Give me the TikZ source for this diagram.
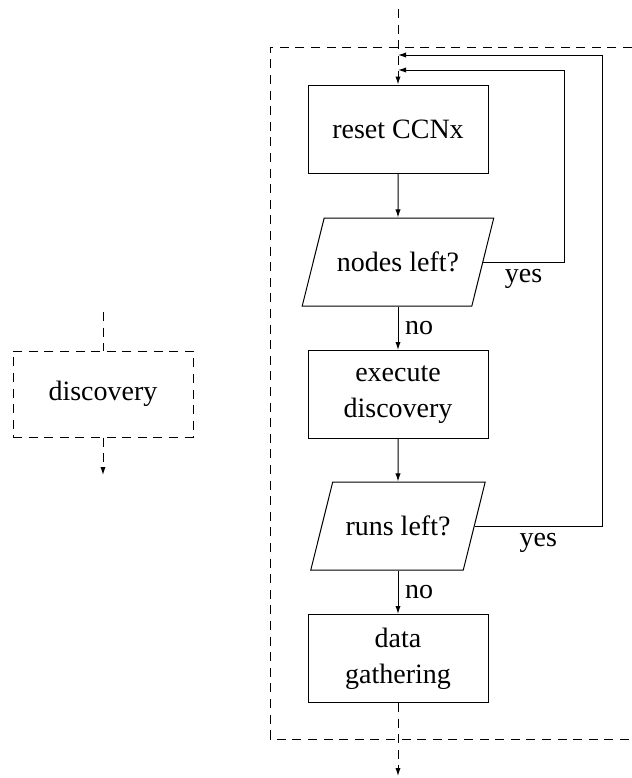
\documentclass[tikz,border=0pt]{standalone}
\usepackage{fontspec}
\setmainfont{Liberation Serif}
\usetikzlibrary{shapes.geometric,arrows.meta}
\begin{document}
\begin{tikzpicture}[x=0.5pt,y=-0.5pt,
  font=\fontsize{14}{18}\selectfont,
  line width=0.5pt,
  process/.style={draw, rectangle, minimum width=90pt, minimum height=44pt,
    inner sep=0pt, align=center},
  decision/.style={draw, trapezium, trapezium left angle=76,
    trapezium right angle=104, text height=9.6pt, text depth=0pt,
    inner xsep=6.4pt, inner ysep=17.2pt},
  flow/.style={-{Latex[length=4pt,width=2.6pt]}},
  dashedline/.style={dash pattern=on 4.5pt off 3.3pt}
]
\useasboundingbox (0,0) rectangle (632,778);

% main loop
\node[process] (reset) at (398,129) {reset CCNx};
\node[decision] (nl) at (398,262) {nodes left?};
\node[process] (exec) at (398,394.5) {execute\\discovery};
\node[decision] (rl) at (398,526) {runs left?};
\node[process] (data) at (398,658.5) {data\\gathering};

% collapsed view
\node[process, dashedline, minimum height=43pt] (disc) at (103,394) {discovery};

% frame around the expanded step
\coordinate (ftr) at (632,47);
\coordinate (ftl) at (270,47);
\coordinate (fbl) at (270,739);
\coordinate (fbr) at (632,739);
\draw[dashedline] (ftr) -- (ftl) -- (fbl) -- (fbr);

% entry and exit
\coordinate (topin) at (398,9);
\coordinate (botout) at (398,776);
\draw[dashedline, flow] (topin) -- (reset.north);
\draw[dashedline, flow] (data.south) -- (botout);

\coordinate (din) at (103,312);
\coordinate (dout) at (103,475);
\draw[dashedline] (din) -- (disc.north);
\draw[dashedline, flow] (disc.south) -- (dout);

% forward flow
\draw[flow] (reset) -- (nl);
\draw[flow] (nl) -- node[right]{no} (exec);
\draw[flow] (exec) -- (rl);
\draw[flow] (rl) -- node[right]{no} (data);

% loops back to the top
\coordinate (r1) at (564,70);
\coordinate (j1) at (398,70);
\coordinate (r2) at (602,55);
\coordinate (j2) at (398,55);
\draw[flow] (nl.east) -- node[below]{yes} (nl.east -| r1) -- (r1) -- (j1);
\draw[flow] (rl.east) -- node[below]{yes} (rl.east -| r2) -- (r2) -- (j2);
\end{tikzpicture}
\end{document}
